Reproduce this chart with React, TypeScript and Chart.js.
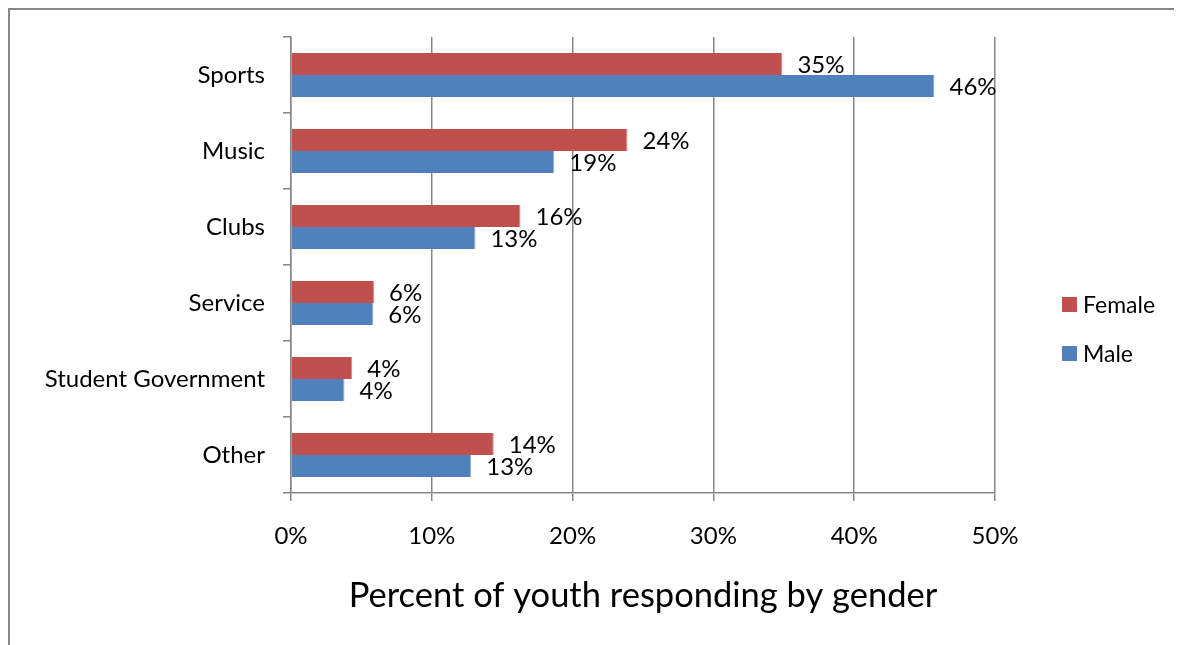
import React, { useEffect, useRef } from "react";
import { Chart, registerables } from "chart.js";

Chart.register(...registerables);

// Activity categories and share of youth taking part, by gender (percent)
const categories = ["Sports", "Music", "Clubs", "Service", "Student Government", "Other"];
const femaleValues = [34.9, 23.9, 16.3, 5.9, 4.35, 14.4];
const maleValues = [45.7, 18.7, 13.1, 5.85, 3.8, 12.8];
const seriesNames = ["Female", "Male"];
const xTickValues = [0, 10, 20, 30, 40, 50];
const axisTitle = "Percent of youth responding by gender";

const FONT = "Lato, 'Open Sans', sans-serif";
const AXIS_GRAY = "#878787";

// Percentage labels just past the end of each bar
const barValueLabels = {
  id: "barValueLabels",
  afterDatasetsDraw(chart: any) {
    const ctx = chart.ctx;
    ctx.save();
    ctx.font = `24px ${FONT}`;
    ctx.fillStyle = "#000";
    ctx.textAlign = "left";
    ctx.textBaseline = "middle";
    chart.data.datasets.forEach((ds: any, di: number) => {
      const meta = chart.getDatasetMeta(di);
      meta.data.forEach((bar: any, i: number) => {
        const v = ds.data[i] as number;
        ctx.fillText(`${Math.round(v)}%`, bar.x + 15, bar.y + 1);
      });
    });
    ctx.restore();
  },
};

// Vertical legend to the right of the plot area
const sideLegend = {
  id: "sideLegend",
  afterDraw(chart: any, _args: any, opts: any) {
    const ctx = chart.ctx;
    const { right } = chart.chartArea;
    ctx.save();
    ctx.font = `23px ${FONT}`;
    ctx.textAlign = "left";
    ctx.textBaseline = "middle";
    chart.data.datasets.forEach((ds: any, i: number) => {
      const cy = opts.top + i * opts.spacing;
      const x = right + opts.offsetX;
      ctx.fillStyle = ds.backgroundColor;
      ctx.fillRect(x, cy - opts.box / 2, opts.box, opts.box);
      ctx.fillStyle = "#000";
      ctx.fillText(ds.label, x + opts.box + 6, cy + 1);
    });
    ctx.restore();
  },
};

export default function App() {
  const canvasRef = useRef<HTMLCanvasElement | null>(null);

  useEffect(() => {
    document.documentElement.style.overflow = "hidden";
    document.body.style.overflow = "hidden";
    if (!canvasRef.current) return;
    const chart = new Chart(canvasRef.current, {
      type: "bar",
      data: {
        labels: categories,
        datasets: [
          {
            label: seriesNames[0],
            data: femaleValues,
            backgroundColor: "#C0504D",
            borderColor: "#D48A88",
            borderWidth: { top: 0, bottom: 0, left: 0, right: 1 },
            borderSkipped: false,
          },
          {
            label: seriesNames[1],
            data: maleValues,
            backgroundColor: "#4F81BD",
            borderColor: "#8AACD6",
            borderWidth: { top: 0, bottom: 0, left: 0, right: 1 },
            borderSkipped: false,
          },
        ],
      },
      options: {
        indexAxis: "y",
        responsive: false,
        animation: false,
        events: [],
        layout: { padding: { top: 27, right: 187, left: 0, bottom: 0 } },
        datasets: {
          bar: { categoryPercentage: 0.58, barPercentage: 1 },
        },
        scales: {
          x: {
            min: 0,
            max: 50,
            afterFit(scale: any) {
              scale.height = 144;
            },
            afterBuildTicks(scale: any) {
              scale.ticks = xTickValues.map((v) => ({ value: v }));
            },
            ticks: {
              padding: 21,
              color: "#000",
              font: { family: FONT, size: 24 },
              callback: (v: any) => `${v}%`,
            },
            grid: {
              color: AXIS_GRAY,
              lineWidth: 1.5,
              tickLength: 8,
              drawTicks: true,
            },
            border: { display: true, color: AXIS_GRAY, width: 1.5 },
            title: {
              display: true,
              text: axisTitle,
              color: "#000",
              font: { family: FONT, size: 34.5 },
              padding: { top: 0, bottom: 20 },
            },
          },
          y: {
            afterFit(scale: any) {
              scale.width = 281;
              scale.paddingTop = 0;
              scale.paddingBottom = 0;
            },
            ticks: {
              padding: 18,
              color: "#000",
              font: { family: FONT, size: 24 },
            },
            grid: {
              offset: true,
              drawOnChartArea: false,
              drawTicks: true,
              tickLength: 8,
              color: AXIS_GRAY,
              lineWidth: 1.5,
            },
            border: { display: true, color: AXIS_GRAY, width: 1.5 },
          },
        },
        plugins: {
          legend: { display: false },
          tooltip: { enabled: false },
          sideLegend: { offsetX: 67, top: 294.5, spacing: 49, box: 15 },
        } as any,
      },
      plugins: [barValueLabels, sideLegend],
    } as any);
    return () => chart.destroy();
  }, []);

  return (
    <div
      style={{
        position: "relative",
        width: 1190,
        height: 640,
        borderTop: `2px solid ${AXIS_GRAY}`,
        borderLeft: `2px solid ${AXIS_GRAY}`,
        overflow: "hidden",
      }}
    >
      <canvas
        ref={canvasRef}
        width={1172}
        height={627}
        style={{ display: "block", width: 1172, height: 627 }}
      />
    </div>
  );
}
